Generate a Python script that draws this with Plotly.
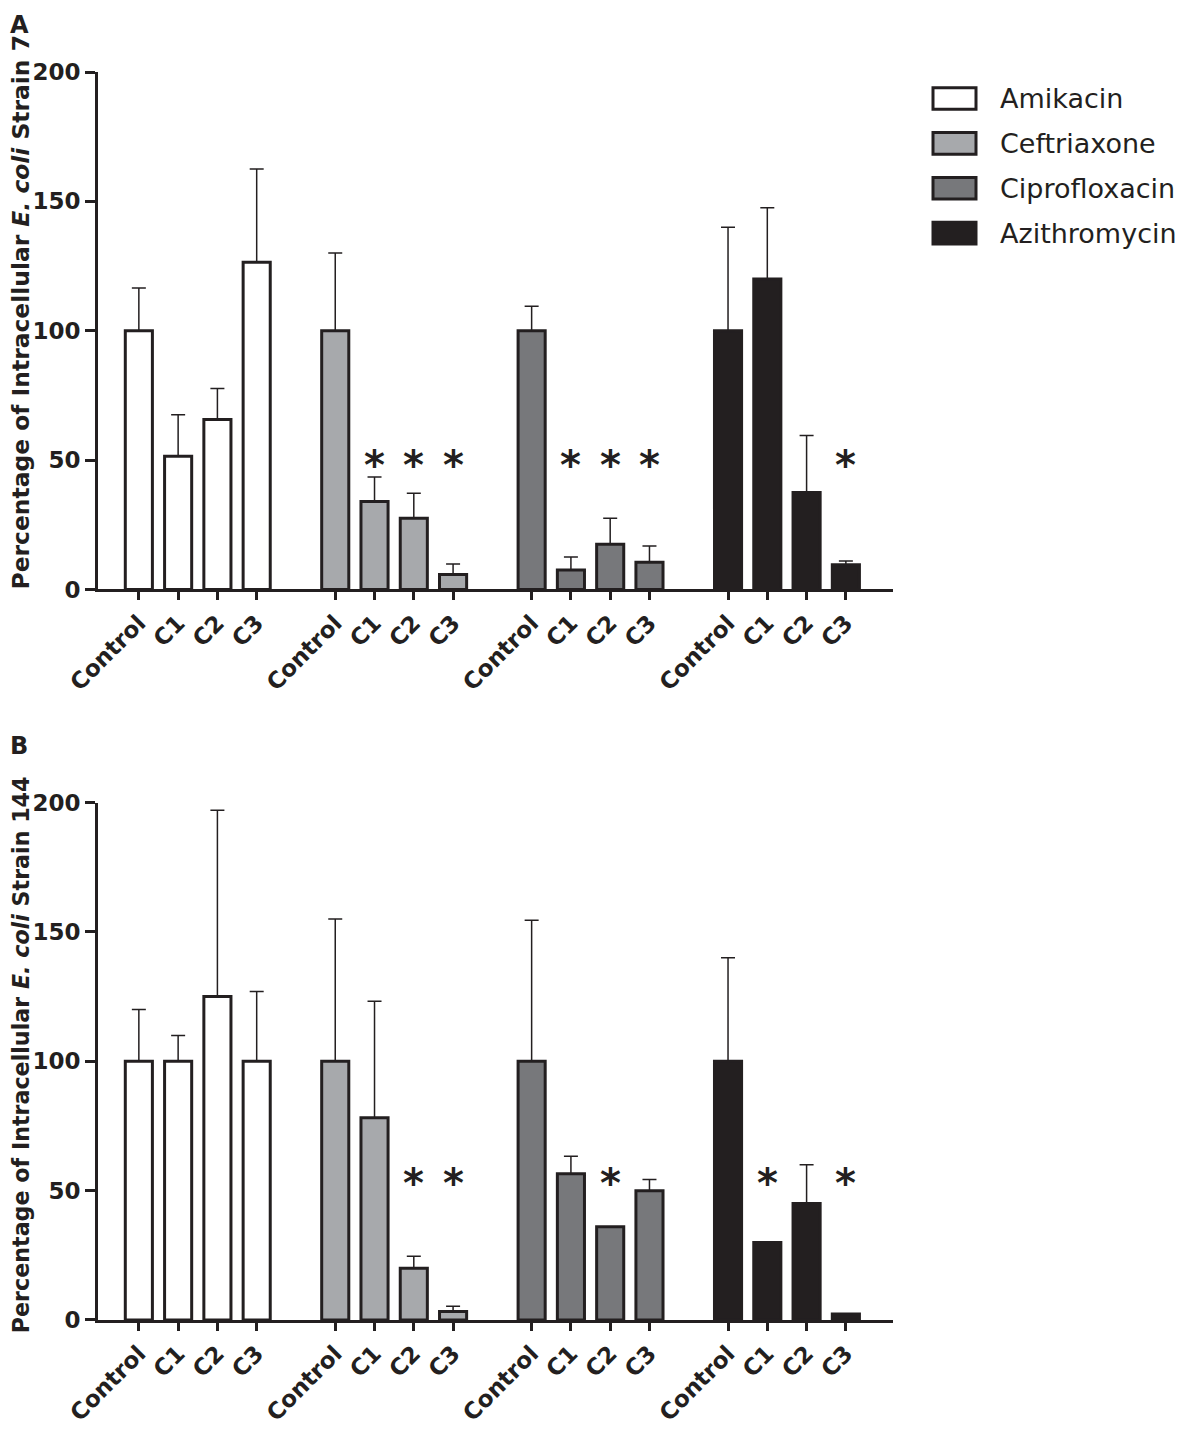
import plotly.graph_objects as go

drugs = ['Amikacin', 'Ceftriaxone', 'Ciprofloxacin', 'Azithromycin']
doses = ['Control', 'C1', 'C2', 'C3']
colors = ['#ffffff', '#a7a9ac', '#77787b', '#231f20']

# panel A - strain 7 (mean, upper error)
a_mean = {
    'Amikacin': [100, 51.5, 65.7, 126.5],
    'Ceftriaxone': [100, 34, 27.5, 5.8],
    'Ciprofloxacin': [100, 7.5, 17.5, 10.5],
    'Azithromycin': [100, 120, 37.5, 9.6],
}
a_err = {
    'Amikacin': [16.5, 16, 12, 36],
    'Ceftriaxone': [30, 9.5, 9.7, 4],
    'Ciprofloxacin': [9.5, 5, 10, 6.3],
    'Azithromycin': [40, 27.5, 22, 1.4],
}
a_sig = {
    'Amikacin': [0, 0, 0, 0],
    'Ceftriaxone': [0, 1, 1, 1],
    'Ciprofloxacin': [0, 1, 1, 1],
    'Azithromycin': [0, 0, 0, 1],
}

# panel B - strain 144
b_mean = {
    'Amikacin': [100, 100, 125, 100],
    'Ceftriaxone': [100, 78.2, 20, 3.3],
    'Ciprofloxacin': [100, 56.5, 36, 50],
    'Azithromycin': [100, 30, 45, 2.3],
}
b_err = {
    'Amikacin': [20, 10, 72, 27],
    'Ceftriaxone': [55, 45, 4.6, 2],
    'Ciprofloxacin': [54.5, 6.8, 0, 4.3],
    'Azithromycin': [40, 0, 15, 0],
}
b_sig = {
    'Amikacin': [0, 0, 0, 0],
    'Ceftriaxone': [0, 0, 1, 1],
    'Ciprofloxacin': [0, 0, 1, 0],
    'Azithromycin': [0, 1, 0, 1],
}

yticks = [0, 50, 100, 150, 200]

INK = '#231f20'
BOLD = dict(family='DejaVu Sans', size=23, color=INK, weight='bold')

# the page keeps an 8px body margin, so the figure is made 16px smaller
# and every page position below is shifted by OFF
OFF = 8
W, H = 1186 - 2 * OFF, 1446 - 2 * OFF
L, T = 98 - OFF, 72 - OFF
R, B = OFF + W - 893, OFF + H - 1343


def px_x(p):
    return (p - OFF - L) / (W - L - R)


def px_y(p):
    return (H - B - (p - OFF)) / (H - T - B)


fig = go.Figure()
xpos_all, xlab_all = [], []

panels = [('x', 'y', a_mean, a_err, a_sig, 48),
          ('x2', 'y2', b_mean, b_err, b_sig, 53)]
for xa, ya, means, errs, sigs, star_y in panels:
    for gi, drug in enumerate(drugs):
        xs = [gi * 5 + k for k in range(len(doses))]
        if xa == 'x':
            xpos_all += xs
            xlab_all += doses
        fig.add_trace(go.Bar(
            x=xs, y=means[drug], width=0.69,
            xaxis=xa, yaxis=ya,
            marker=dict(color=colors[gi], line=dict(color=INK, width=3)),
            error_y=dict(type='data', array=errs[drug],
                         arrayminus=[0] * len(xs), symmetric=False,
                         thickness=1.5, width=7, color=INK),
            name=drug, showlegend=False,
        ))
        for x, s in zip(xs, sigs[drug]):
            if s:
                fig.add_annotation(x=x, y=star_y, xref=xa, yref=ya, text='*',
                                   showarrow=False, yanchor='middle',
                                   font=dict(BOLD, size=40))

xcommon = dict(range=[-1.04, 19.2], tickvals=xpos_all, ticktext=xlab_all,
               tickangle=-45, ticks='outside', ticklen=8, tickwidth=3,
               tickcolor=INK, showline=True, linewidth=3, linecolor=INK,
               showgrid=False, zeroline=False, tickfont=BOLD)
ycommon = dict(range=[0, 200], tickvals=yticks, ticks='outside', ticklen=10,
               tickwidth=3, tickcolor=INK, showline=True, linewidth=3,
               linecolor=INK, showgrid=False, zeroline=False,
               tickfont=BOLD)

fig.update_layout(
    width=W, height=H,
    margin=dict(l=L, r=R, t=T, b=B),
    paper_bgcolor='white', plot_bgcolor='white',
    barmode='overlay', showlegend=False,
    xaxis=dict(xcommon, domain=[0, 1], anchor='y'),
    yaxis=dict(ycommon, domain=[px_y(599), 1], anchor='x'),
    xaxis2=dict(xcommon, domain=[0, 1], anchor='y2'),
    yaxis2=dict(ycommon, domain=[0, px_y(816)], anchor='x2'),
)

# y titles, anchored at their lower end
titles = [('Percentage of Intracellular <i>E. coli</i> Strain 7', 601, 23.4),
          ('Percentage of Intracellular <i>E. coli</i> Strain 144', 1359, 22.2)]
for txt, by, fs in titles:
    fig.add_annotation(x=px_x(21), y=px_y(by), xref='paper', yref='paper',
                       text=txt, textangle=-90, showarrow=False,
                       xanchor='center', yanchor='bottom',
                       font=dict(BOLD, size=fs))

# panel letters
for letter, py in [('A', 8), ('B', 742)]:
    fig.add_annotation(x=px_x(8), y=px_y(py), xref='paper', yref='paper',
                       text=letter, showarrow=False, xanchor='left',
                       yanchor='top', font=dict(BOLD, size=24))

# legend drawn by hand
for i, drug in enumerate(drugs):
    cy = 99 + i * 45.7
    fig.add_shape(type='rect', xref='paper', yref='paper',
                  x0=px_x(933), x1=px_x(976), y0=px_y(cy - 11),
                  y1=px_y(cy + 11),
                  fillcolor=colors[i], line=dict(color=INK, width=3))
    fig.add_annotation(x=px_x(998), y=px_y(cy), xref='paper', yref='paper',
                       text=drug, showarrow=False, xanchor='left',
                       yanchor='middle',
                       font=dict(family='DejaVu Sans', size=27, color=INK))

fig.write_html('out.html')
